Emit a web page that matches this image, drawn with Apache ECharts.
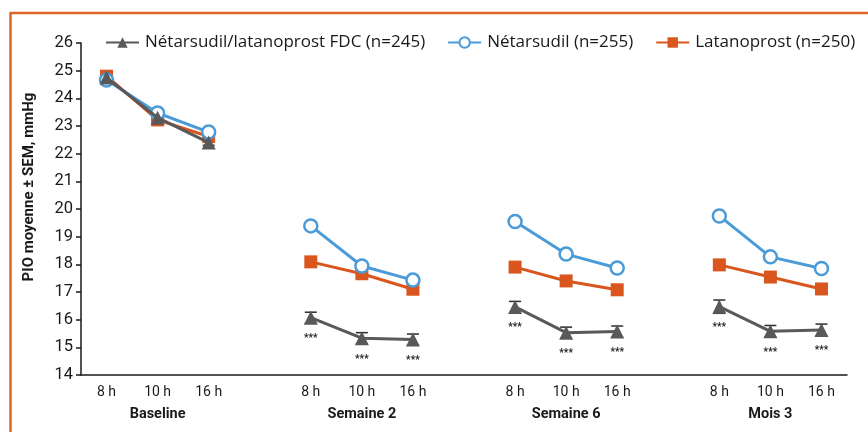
<!DOCTYPE html>
<html>
<head>
<meta charset="utf-8">
<script src="https://cdn.jsdelivr.net/npm/echarts@6/dist/echarts.min.js"></script>
<style>
  html, body { margin: 0; padding: 0; background: #fff; }
  #chart { width: 868px; height: 432px; }
</style>
</head>
<body>
<div id="chart"></div>
<script>
// Time points (gap slots separate the visits)
const hours = ['8 h', '10 h', '16 h', '', '8 h', '10 h', '16 h', '', '8 h', '10 h', '16 h', '', '8 h', '10 h', '16 h'];
const visits = ['', 'Baseline', '', '', '', 'Semaine 2', '', '', '', 'Semaine 6', '', '', '', 'Mois 3', ''];

// Mean IOP (mmHg) per time point
const fdcValues = [24.75, 23.3, 22.4, null, 16.07, 15.33, 15.28, null, 16.46, 15.53, 15.57, null, 16.47, 15.58, 15.63];
const netarsudilValues = [24.66, 23.47, 22.78, null, 19.39, 17.94, 17.43, null, 19.55, 18.37, 17.87, null, 19.75, 18.27, 17.85];
const latanoprostValues = [24.8, 23.22, 22.62, null, 18.09, 17.66, 17.1, null, 17.9, 17.4, 17.08, null, 17.98, 17.54, 17.11];

// SEM of the fixed combination and significance marks
const fdcSem = [0.1, 0.1, 0.1, null, 0.2, 0.2, 0.2, null, 0.2, 0.2, 0.2, null, 0.24, 0.21, 0.21];
const fdcSignif = ['', '', '', '', '***', '***', '***', '', '***', '***', '***', '', '***', '***', '***'];

const seriesNames = ['Nétarsudil/latanoprost FDC (n=245)', 'Nétarsudil (n=255)', 'Latanoprost (n=250)'];
const yTicks = [14, 26, 1];

const GRAY = '#595959';
const BLUE = '#4a9bd7';
const ORANGE = '#d9561f';
const FRAME = '#de6329';
const FONT = 'Roboto, "Noto Sans", sans-serif';
const LEGEND_FONT = '"Open Sans", Roboto, sans-serif';

const errData = fdcValues.map((v, i) => v == null ? null : [i, v - fdcSem[i], v + fdcSem[i], fdcSignif[i], v])
  .filter(d => d);

const chart = echarts.init(document.getElementById('chart'), null, { renderer: 'canvas' });

chart.setOption({
  animation: false,
  backgroundColor: '#fff',
  textStyle: { fontFamily: FONT, color: '#1a1a1a' },
  graphic: [
    { type: 'line', shape: { x1: 10, y1: 13, x2: 868, y2: 13 }, style: { stroke: FRAME, lineWidth: 2.5 } },
    { type: 'line', shape: { x1: 10.5, y1: 12, x2: 10.5, y2: 432 }, style: { stroke: FRAME, lineWidth: 2.5 } },
    {
      type: 'text', x: 29, y: 187, rotation: Math.PI / 2,
      style: {
        text: 'PIO moyenne ± SEM, mmHg', fill: '#1a1a1a',
        font: 'bold 15px ' + FONT, align: 'center', verticalAlign: 'middle'
      }
    }
  ],
  legend: {
    top: 29, left: 100, itemGap: 22, itemWidth: 33, itemHeight: 13,
    textStyle: { fontSize: 17, color: '#1a1a1a', fontFamily: LEGEND_FONT, padding: [0, 0, 0, 1] },
    data: seriesNames
  },
  grid: { left: 81, right: 21, top: 43, bottom: 57 },
  xAxis: [
    {
      type: 'category', data: hours, boundaryGap: true,
      axisLine: { lineStyle: { color: '#1a1a1a', width: 1.5 } },
      axisTick: { length: 5, lineStyle: { color: '#1a1a1a', width: 1.5 } },
      axisLabel: { interval: 0, fontSize: 14, color: '#1a1a1a', margin: 10 }
    },
    {
      type: 'category', data: visits, position: 'bottom', offset: 22,
      axisLine: { show: false }, axisTick: { show: false },
      axisLabel: { interval: 0, fontSize: 14.5, fontWeight: 'bold', color: '#1a1a1a', margin: 10 }
    }
  ],
  yAxis: {
    type: 'value', min: yTicks[0], max: yTicks[1], interval: yTicks[2],
    splitLine: { show: false },
    axisLine: { show: true, lineStyle: { color: '#1a1a1a', width: 1.5 } },
    axisTick: { show: true, length: 5, lineStyle: { color: '#1a1a1a', width: 1.5 } },
    axisLabel: { fontSize: 16.5, color: '#1a1a1a', margin: 8 }
  },
  series: [
    {
      type: 'custom', name: 'sem', xAxisIndex: 0, z: 1, silent: true,
      data: errData,
      renderItem: function (params, api) {
        const x = api.coord([api.value(0), 0])[0];
        const lo = api.coord([api.value(0), api.value(1)])[1];
        const hi = api.coord([api.value(0), api.value(2)])[1];
        const mid = api.coord([api.value(0), api.value(4)])[1];
        const cap = 6;
        const st = { stroke: '#2b2b2b', lineWidth: 1.5 };
        const children = [
          { type: 'line', shape: { x1: x, y1: lo, x2: x, y2: hi }, style: st },
          { type: 'line', shape: { x1: x - cap, y1: hi, x2: x + cap, y2: hi }, style: st },
          { type: 'line', shape: { x1: x - cap, y1: lo, x2: x + cap, y2: lo }, style: st }
        ];
        const mark = api.value(3);
        if (mark) {
          children.push({
            type: 'text', z2: 10,
            style: { text: mark, x: x, y: mid + 21, align: 'center', verticalAlign: 'middle', font: 'bold 10px ' + FONT, fill: '#1a1a1a' }
          });
        }
        return { type: 'group', children: children };
      }
    },
    {
      type: 'line', name: seriesNames[2], data: latanoprostValues, z: 2,
      connectNulls: false, symbol: 'rect', symbolSize: 13,
      lineStyle: { color: ORANGE, width: 3 },
      itemStyle: { color: ORANGE, borderWidth: 0 }
    },
    {
      type: 'line', name: seriesNames[1], data: netarsudilValues, z: 3,
      connectNulls: false, symbol: 'circle', symbolSize: 13,
      lineStyle: { color: BLUE, width: 3 },
      itemStyle: { color: '#fff', borderColor: BLUE, borderWidth: 2.5 }
    },
    {
      type: 'line', name: seriesNames[0], data: fdcValues, z: 4,
      connectNulls: false, symbol: 'triangle', symbolSize: 14,
      lineStyle: { color: GRAY, width: 3 },
      itemStyle: { color: GRAY, borderWidth: 0 }
    }
  ]
});
</script>
</body>
</html>
